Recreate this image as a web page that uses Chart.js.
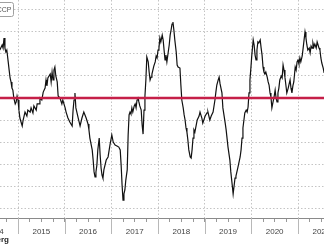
<!DOCTYPE html>
<html>
<head>
<meta charset="utf-8">
<script src="https://cdn.jsdelivr.net/npm/chart.js@4"></script>
<style>
  html, body { margin: 0; padding: 0; background: #fff; }
  #wrap { width: 324px; height: 247px; position: relative; }
</style>
</head>
<body>
<div id="wrap"><canvas id="spreadChart"></canvas></div>
<script>
// weekly readings, x as decimal year
const years = [
  2014.61, 2014.66, 2014.68, 2014.70, 2014.72, 2014.74, 2014.76, 2014.79, 2014.81, 2014.83,
  2014.85, 2014.87, 2014.89, 2014.91, 2014.94, 2014.96, 2014.98, 2015.00, 2015.02, 2015.04,
  2015.09, 2015.11, 2015.15, 2015.19, 2015.21, 2015.26, 2015.28, 2015.32, 2015.34, 2015.39,
  2015.41, 2015.45, 2015.47, 2015.51, 2015.54, 2015.58, 2015.60, 2015.62, 2015.64, 2015.69,
  2015.71, 2015.73, 2015.75, 2015.77, 2015.79, 2015.81, 2015.84, 2015.86, 2015.90, 2015.94,
  2015.96, 2016.01, 2016.03, 2016.07, 2016.11, 2016.16, 2016.18, 2016.20, 2016.22, 2016.24,
  2016.29, 2016.33, 2016.37, 2016.41, 2016.46, 2016.50, 2016.52, 2016.54, 2016.59, 2016.61,
  2016.63, 2016.65, 2016.67, 2016.69, 2016.71, 2016.74, 2016.76, 2016.78, 2016.80, 2016.82,
  2016.84, 2016.89, 2016.93, 2016.97, 2017.01, 2017.04, 2017.08, 2017.12, 2017.16, 2017.19,
  2017.21, 2017.23, 2017.25, 2017.27, 2017.29, 2017.31, 2017.34, 2017.36, 2017.38, 2017.40,
  2017.42, 2017.44, 2017.46, 2017.49, 2017.51, 2017.53, 2017.55, 2017.57, 2017.59, 2017.61,
  2017.64, 2017.66, 2017.68, 2017.70, 2017.72, 2017.74, 2017.76, 2017.79, 2017.81, 2017.83,
  2017.85, 2017.87, 2017.89, 2017.91, 2017.94, 2017.96, 2017.98, 2018.00, 2018.02, 2018.04,
  2018.06, 2018.09, 2018.11, 2018.13, 2018.15, 2018.17, 2018.19, 2018.21, 2018.24, 2018.26,
  2018.28, 2018.30, 2018.32, 2018.34, 2018.36, 2018.39, 2018.41, 2018.43, 2018.47, 2018.49,
  2018.51, 2018.54, 2018.56, 2018.58, 2018.60, 2018.62, 2018.64, 2018.66, 2018.69, 2018.71,
  2018.73, 2018.75, 2018.77, 2018.79, 2018.84, 2018.88, 2018.90, 2018.94, 2018.96, 2019.01,
  2019.05, 2019.07, 2019.11, 2019.14, 2019.18, 2019.22, 2019.24, 2019.26, 2019.29, 2019.31,
  2019.33, 2019.37, 2019.39, 2019.44, 2019.46, 2019.50, 2019.54, 2019.56, 2019.59, 2019.61,
  2019.63, 2019.65, 2019.67, 2019.71, 2019.76, 2019.78, 2019.80, 2019.82, 2019.86, 2019.89,
  2019.91, 2019.93, 2019.95, 2019.97, 2019.99, 2020.01, 2020.04, 2020.06, 2020.08, 2020.10,
  2020.12, 2020.14, 2020.16, 2020.19, 2020.21, 2020.23, 2020.25, 2020.27, 2020.29, 2020.31,
  2020.34, 2020.36, 2020.38, 2020.40, 2020.42, 2020.44, 2020.46, 2020.49, 2020.51, 2020.53,
  2020.55, 2020.57, 2020.59, 2020.61, 2020.64, 2020.66, 2020.68, 2020.70, 2020.72, 2020.74,
  2020.76, 2020.79, 2020.81, 2020.83, 2020.85, 2020.87, 2020.89, 2020.91, 2020.94, 2020.96,
  2020.98, 2021.00, 2021.02, 2021.04, 2021.06, 2021.09, 2021.11, 2021.13, 2021.15, 2021.17,
  2021.19, 2021.21, 2021.24, 2021.26, 2021.28, 2021.30, 2021.32, 2021.34, 2021.36, 2021.39,
  2021.41, 2021.43, 2021.45, 2021.47, 2021.49, 2021.51, 2021.54, 2021.56
];
const values = [
  21.8, 24.1, 22.7, 27.3, 22.7, 20.9, 21.8, 16.4, 12.7, 9.1,
  7.3, 4.5, 3.6, 0.0, -2.7, -1.8, 0.9, -0.9, -5.5, -9.1,
  -12.7, -10.0, -6.4, -8.2, -5.5, -6.4, -4.5, -6.8, -3.6, -5.5,
  -2.7, -2.7, 0.0, -0.9, 2.7, 4.5, 8.2, 5.5, 9.1, 10.9,
  7.3, 11.8, 8.2, 12.7, 14.1, 10.0, 7.3, 0.9, 0.0, -2.7,
  -0.9, -4.5, -6.4, -9.1, -10.9, -12.7, -5.5, -0.9, 2.3, -4.5,
  -9.1, -12.7, -9.1, -6.4, -9.1, -11.8, -14.5, -18.2, -23.6, -28.2,
  -33.6, -35.9, -33.6, -30.5, -23.6, -18.2, -25.9, -31.8, -35.0, -36.4,
  -32.7, -28.2, -26.8, -21.4, -16.8, -20.0, -21.4, -21.8, -22.3, -23.6,
  -30.5, -39.5, -46.4, -43.6, -41.8, -37.3, -32.7, -16.8, -7.7, -6.4,
  -7.3, -4.5, -6.4, -3.6, -2.7, -4.5, -0.9, 0.5, -1.8, -3.6,
  -5.5, -12.3, -16.4, -5.5, 0.9, 8.2, 18.6, 16.4, 11.8, 8.2,
  9.5, 10.9, 12.7, 14.5, 16.4, 19.1, 18.2, 21.8, 22.7, 27.3,
  25.5, 28.6, 26.4, 21.8, 17.3, 19.5, 16.4, 19.5, 24.1, 28.6,
  30.9, 33.6, 34.5, 30.9, 26.4, 20.9, 15.0, 14.1, 13.6, 5.9,
  -0.9, -4.5, -7.7, -10.0, -13.6, -15.5, -19.1, -23.6, -26.8, -27.3,
  -23.6, -18.2, -14.5, -15.5, -10.0, -8.2, -6.4, -9.1, -11.4, -8.2,
  -6.8, -6.4, -10.0, -8.2, -6.4, -0.9, 2.7, 5.9, 8.2, 9.5,
  6.4, 2.3, -4.5, -11.4, -14.5, -22.3, -28.2, -33.6, -39.5, -43.6,
  -40.0, -36.4, -35.5, -31.8, -26.8, -23.6, -18.2, -13.6, -6.8, -5.5,
  -6.4, -4.1, 2.3, 8.2, 13.6, 19.5, 26.4, 24.1, 19.5, 17.3,
  21.8, 25.5, 25.0, 26.4, 22.7, 19.5, 14.1, 11.8, 10.9, 11.8,
  9.5, 7.3, 5.9, 2.3, 0.5, -4.5, -2.3, 0.9, 3.6, 0.0,
  -1.8, 2.3, 4.5, 8.2, 10.0, 9.1, 15.0, 12.7, 9.5, 5.9,
  2.3, 4.5, 6.4, 8.2, 4.5, 2.3, 5.5, 7.3, 14.1, 12.7,
  16.4, 17.3, 15.5, 18.2, 16.4, 19.1, 22.7, 26.4, 30.0, 27.3,
  24.1, 21.8, 22.7, 20.5, 23.6, 22.7, 25.0, 23.2, 24.5, 22.7,
  25.5, 24.1, 22.7, 21.8, 18.2, 15.9, 13.6, 11.4
];
const yearLabels = ['2014', '2015', '2016', '2017', '2018', '2019', '2020', '2021'];
const gridLevels = [-50, -40, -30, -20, -10, 0, 10, 20, 30, 40];
const refLevel = 0;
const seriesName = 'CCP';

const xMin = 2014.614, xMax = 2021.557;

// quarter ticks, labels sit on mid-year
let quarterTicks = [];
yearLabels.forEach(function (y) {
  [0, 0.25, 0.5, 0.75].forEach(function (q) { quarterTicks.push({ value: +y + q }); });
});

const frame = {
  id: 'frame',
  afterDraw(chart) {
    const ctx = chart.ctx, area = chart.chartArea, xs = chart.scales.x;
    ctx.save();
    // long year separators under the axis
    ctx.strokeStyle = '#b8b8b8';
    ctx.lineWidth = 1;
    yearLabels.forEach(function (y) {
      const px = Math.round(xs.getPixelForValue(+y)) + 0.5;
      ctx.beginPath();
      ctx.moveTo(px, area.bottom);
      ctx.lineTo(px, area.bottom + 16);
      ctx.stroke();
    });
    // cut-off legend box
    ctx.fillStyle = '#fff';
    ctx.strokeStyle = '#a0a0a0';
    ctx.beginPath();
    ctx.roundRect(-20.5, 2.5, 34, 14, 2);
    ctx.fill();
    ctx.stroke();
    ctx.fillStyle = '#555';
    ctx.font = '7px "Liberation Sans"';
    ctx.textAlign = 'right';
    ctx.textBaseline = 'middle';
    ctx.fillText(seriesName, 11.5, 10);
    // source line
    ctx.fillStyle = '#222';
    ctx.font = 'bold 8px "Liberation Sans"';
    ctx.textBaseline = 'alphabetic';
    ctx.fillText('Bloomberg', 9, 242);
    ctx.restore();
  }
};

const ctx = document.getElementById('spreadChart').getContext('2d');
let spreadChart = new Chart(ctx, {
  type: 'line',
  data: {
    datasets: [
      {
        label: 'ref',
        data: [{ x: xMin, y: refLevel }, { x: xMax, y: refLevel }],
        borderColor: '#c51f48',
        borderWidth: 2.5,
        pointRadius: 0,
        order: 0
      },
      {
        label: seriesName,
        data: years.map(function (x, i) { return { x: x, y: values[i] }; }),
        borderColor: '#111',
        borderWidth: 1.2,
        pointRadius: 0,
        tension: 0,
        order: 1
      }
    ]
  },
  options: {
    responsive: true,
    maintainAspectRatio: false,
    animation: false,
    devicePixelRatio: 1,
    layout: { padding: 0, autoPadding: false },
    plugins: { legend: { display: false }, tooltip: { enabled: false } },
    scales: {
      x: {
        type: 'linear',
        min: xMin,
        max: xMax,
        afterBuildTicks: function (s) { s.ticks = quarterTicks.map(function (t) { return { value: t.value }; }); },
        afterFit: function (s) { s.height = 29; s.paddingLeft = 0; s.paddingRight = 0; },
        grid: {
          color: function (c) { return Number.isInteger(c.tick.value) ? '#c4c4c4' : 'rgba(0,0,0,0)'; },
          tickColor: '#999',
          tickLength: 4
        },
        border: { color: '#8a8a8a', width: 1, dash: [1.5, 2] },
        ticks: {
          autoSkip: false,
          maxRotation: 0,
          padding: 5,
          color: '#444',
          font: { family: 'Liberation Sans', size: 8 },
          callback: function (v) { return (v % 1 === 0.5) ? String(Math.floor(v)) : ''; }
        }
      },
      y: {
        min: -54.545,
        max: 44.545,
        afterBuildTicks: function (s) { s.ticks = gridLevels.map(function (v) { return { value: v }; }); },
        afterFit: function (s) { s.width = 0; },
        grid: { color: '#c4c4c4', drawTicks: false },
        border: { display: false, dash: [1.5, 2] },
        ticks: { display: false }
      }
    }
  },
  plugins: [frame]
});
</script>
</body>
</html>
